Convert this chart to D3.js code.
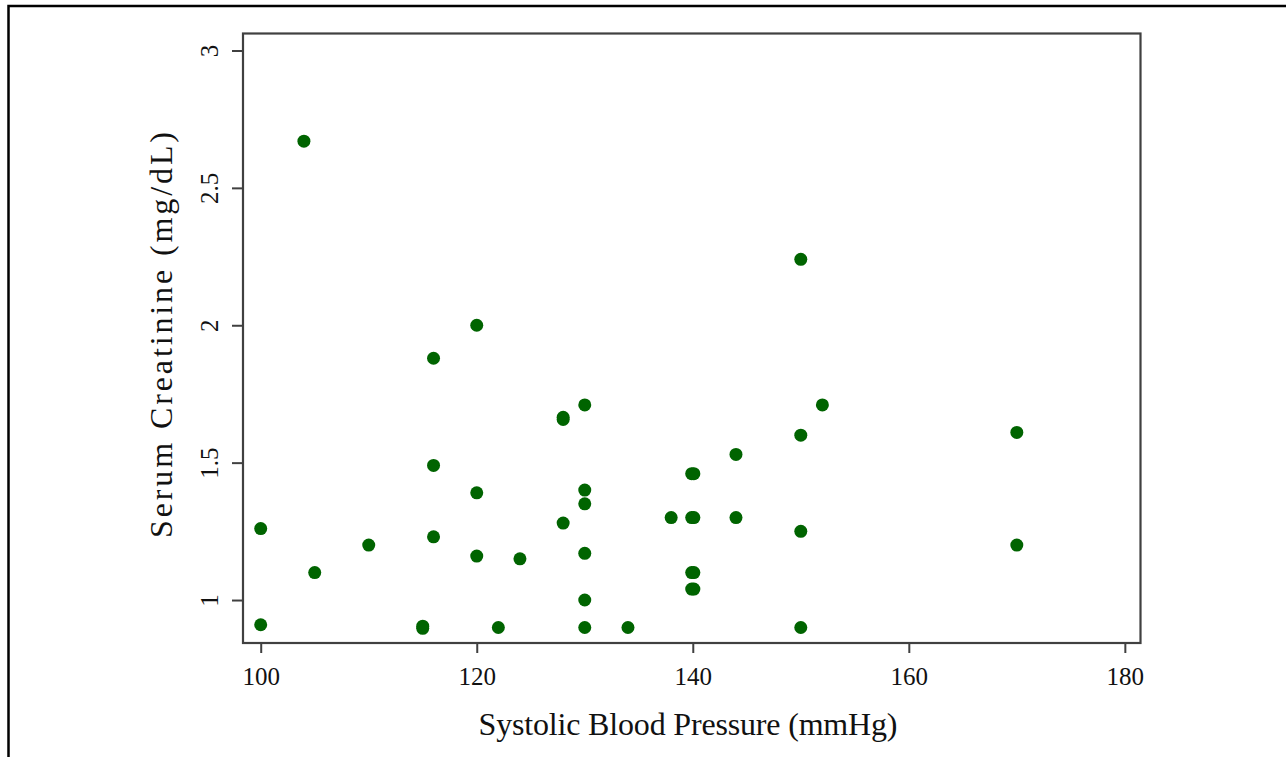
<!DOCTYPE html>
<html>
<head>
<meta charset="utf-8">
<script src="https://cdn.jsdelivr.net/npm/d3@7"></script>
<style>
  html, body { margin: 0; padding: 0; background: #fff; }
  svg { display: block; }
  text { font-family: "Liberation Serif", "Times New Roman", serif; fill: #111; }
</style>
</head>
<body>
<svg id="chart" width="1286" height="757"></svg>
<script>
// ---- data ----
const sbp = [104, 150, 120, 116, 128, 128, 130, 152, 170, 150, 116, 139.9, 140.1, 144, 120, 130, 130,
             138, 139.9, 140.1, 144, 128, 100, 150, 116, 110, 170, 120, 124, 130, 105, 139.9, 140.1,
             139.9, 140.1, 130, 100, 115, 115, 122, 130, 134, 150];
const creatinine = [2.67, 2.24, 2.00, 1.88, 1.657, 1.665, 1.71, 1.71, 1.61, 1.60, 1.49, 1.46, 1.46, 1.53, 1.39, 1.40, 1.35,
                    1.30, 1.30, 1.30, 1.30, 1.28, 1.26, 1.25, 1.23, 1.20, 1.20, 1.16, 1.15, 1.17, 1.10, 1.10, 1.10,
                    1.04, 1.04, 1.00, 0.91, 0.897, 0.905, 0.90, 0.90, 0.90, 0.90];
const xTicks = [100, 120, 140, 160, 180];
const yTicks = [1, 1.5, 2, 2.5, 3];
const xTitle = "Systolic Blood Pressure (mmHg)";
const yTitle = "Serum Creatinine (mg/dL)";

// ---- layout ----
const plot = { left: 243, top: 33.5, right: 1140.5, bottom: 643 };
const svg = d3.select("#chart");

// outer frame
svg.append("path")
  .attr("d", `M8.5,760 L8.5,6 L1290,6`)
  .attr("fill", "none").attr("stroke", "#000").attr("stroke-width", 2.5);

const x = d3.scaleLinear().domain([98.36, 181.45]).range([plot.left, plot.right]);
const y = d3.scaleLinear().domain([0.8436, 3.0618]).range([plot.bottom, plot.top]);

// plot border
svg.append("rect")
  .attr("x", plot.left).attr("y", plot.top)
  .attr("width", plot.right - plot.left).attr("height", plot.bottom - plot.top)
  .attr("fill", "none").attr("stroke", "#404040").attr("stroke-width", 2.2);

// x axis
const gx = svg.append("g").attr("transform", `translate(0,${plot.bottom})`)
  .call(d3.axisBottom(x).tickValues(xTicks).tickSize(10).tickFormat(d3.format("d")));
gx.select(".domain").remove();
gx.selectAll(".tick line").attr("stroke", "#404040").attr("stroke-width", 2);
gx.selectAll(".tick text").attr("y", 42).attr("dy", null)
  .style("font-family", '"Liberation Serif", serif').style("font-size", "25px").attr("fill", "#111");

// y axis
const gy = svg.append("g").attr("transform", `translate(${plot.left},0)`)
  .call(d3.axisLeft(y).tickValues(yTicks).tickSize(11).tickFormat(d => String(d)));
gy.select(".domain").remove();
gy.selectAll(".tick line").attr("stroke", "#404040").attr("stroke-width", 2);
gy.selectAll(".tick text")
  .attr("x", null).attr("dy", null)
  .attr("text-anchor", "middle")
  .attr("transform", "translate(-25,0) rotate(-90)")
  .style("font-family", '"Liberation Serif", serif').style("font-size", "25px").attr("fill", "#111");

// points
const pts = sbp.map((v, i) => ({ sbp: v, cr: creatinine[i] }));
svg.append("g").selectAll("circle").data(pts).join("circle")
  .attr("cx", d => x(d.sbp)).attr("cy", d => y(d.cr))
  .attr("r", 6.5).attr("fill", "#006400");

// titles
svg.append("text")
  .attr("x", 688).attr("y", 735)
  .attr("text-anchor", "middle")
  .attr("textLength", 419).attr("lengthAdjust", "spacing")
  .style("font-size", "32px")
  .text(xTitle);

svg.append("text")
  .attr("transform", "translate(172,335) rotate(-90)")
  .attr("text-anchor", "middle")
  .attr("textLength", 406).attr("lengthAdjust", "spacing")
  .style("font-size", "32px")
  .text(yTitle);
</script>
</body>
</html>
